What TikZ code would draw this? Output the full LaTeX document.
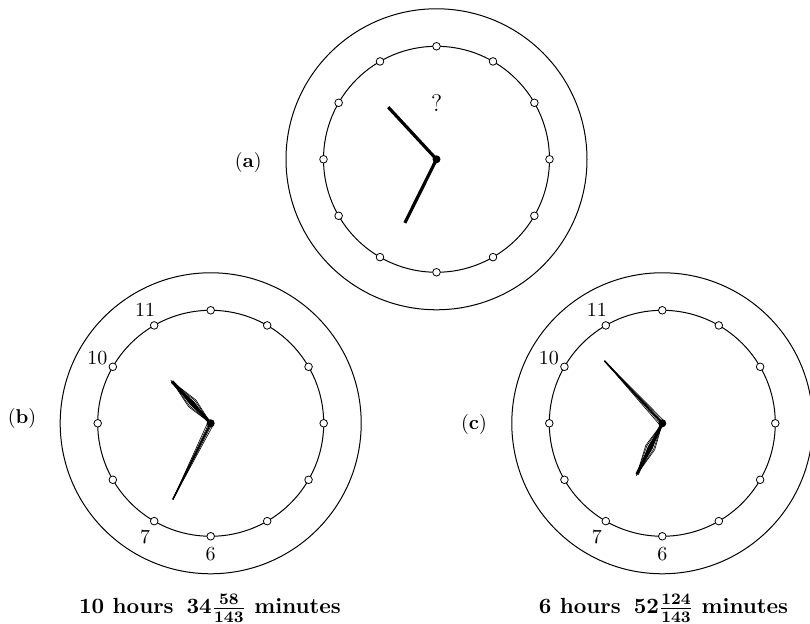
\documentclass[tikz,border=0pt]{standalone}
\usetikzlibrary{calc}

\tikzset{
    rim/.style={line width=0.5pt},
    tick/.style={line width=0.4pt, fill=white},
    hand/.style={line width=1.6pt},
    wire/.style={line width=0.3pt},
    hour/.style={font=\normalsize},
    caption/.style={anchor=base, font=\fontsize{10.95}{13}\selectfont\bfseries\boldmath},
}

\begin{document}
\begin{tikzpicture}[x=0.5pt,y=0.5pt]
    \useasboundingbox (0,0) rectangle (810,624);

    % Centres
    \coordinate (ca) at (436.5,464.7);
    \coordinate (cb) at (210.7,200.7);
    \coordinate (cc) at (662.3,200.7);

    % Faces
    \foreach \c in {ca,cb,cc} {
        \draw[rim] (\c) circle (150.5);
        \draw[rim] (\c) circle (113);
        \foreach \k in {0,...,11}
            \draw[tick] ($(\c)+(\k*30:113)$) circle (3.8);
    }

    % Numbers
    \foreach \c in {cb,cc} {
        \node[hour] at ($(\c)+(120:131)$) {11};
        \node[hour] at ($(\c)+(150:131)$) {10};
        \node[hour] at ($(\c)+(240:131)$) {7};
        \node[hour] at ($(\c)+(270:131)$) {6};
    }

    % Hands (a)
    \coordinate (ta1) at ($(ca)+(132.8:71)$);
    \coordinate (ta2) at ($(ca)+(-116.43:71)$);
    \draw[hand] (ca) -- (ta1);
    \draw[hand] (ca) -- (ta2);
    \fill (ca) circle (4);
    \node[font=\large] (qa) at (436.7,520.7) {?};

    % Hands (b): hour up-left, minute down-left
    \begin{scope}[shift={(cb)}, rotate=132.8]
        \fill (0,0) -- (27,2.6) -- (57,0) -- (27,-2.6) -- cycle;
        \foreach \w in {3.8,5}
            \draw[wire] (0,0) -- (27,\w) -- (57,0) -- (27,-\w) -- cycle;
        \draw[line width=1.6pt] (0,0) -- (57,0);
    \end{scope}
    \begin{scope}[shift={(cb)}, rotate=-116.43]
        \foreach \w in {-3,-1.5,0,1.5,3}
            \draw[wire] (0,\w) -- (85,0);
        \draw[line width=0.8pt] (0,0) -- (85,0);
    \end{scope}
    \fill (cb) circle (4);

    % Hands (c): minute up-left, hour down-left
    \begin{scope}[shift={(cc)}, rotate=132.8]
        \foreach \w in {-3,-1.5,0,1.5,3}
            \draw[wire] (0,\w) -- (85,0);
        \draw[line width=0.8pt] (0,0) -- (85,0);
    \end{scope}
    \begin{scope}[shift={(cc)}, rotate=-116.43]
        \fill (0,0) -- (27,2.6) -- (57,0) -- (27,-2.6) -- cycle;
        \foreach \w in {3.8,5}
            \draw[wire] (0,0) -- (27,\w) -- (57,0) -- (27,-\w) -- cycle;
        \draw[line width=1.6pt] (0,0) -- (57,0);
    \end{scope}
    \fill (cc) circle (4);

    % Labels
    \node (la) at (248.3,461.5) {$(\mathbf{a})$};
    \node (lb) at (22,205) {$(\mathbf{b})$};
    \node (lc) at (474,199.3) {$(\mathbf{c})$};

    % Captions
    \node[caption] (capb) at (210,10) {10 hours\hspace{6.5pt}$34\frac{58}{143}$ minutes};
    \node[caption] (capc) at (663.5,10) {6 hours\hspace{6.5pt}$52\frac{124}{143}$ minutes};
\end{tikzpicture}
\end{document}
